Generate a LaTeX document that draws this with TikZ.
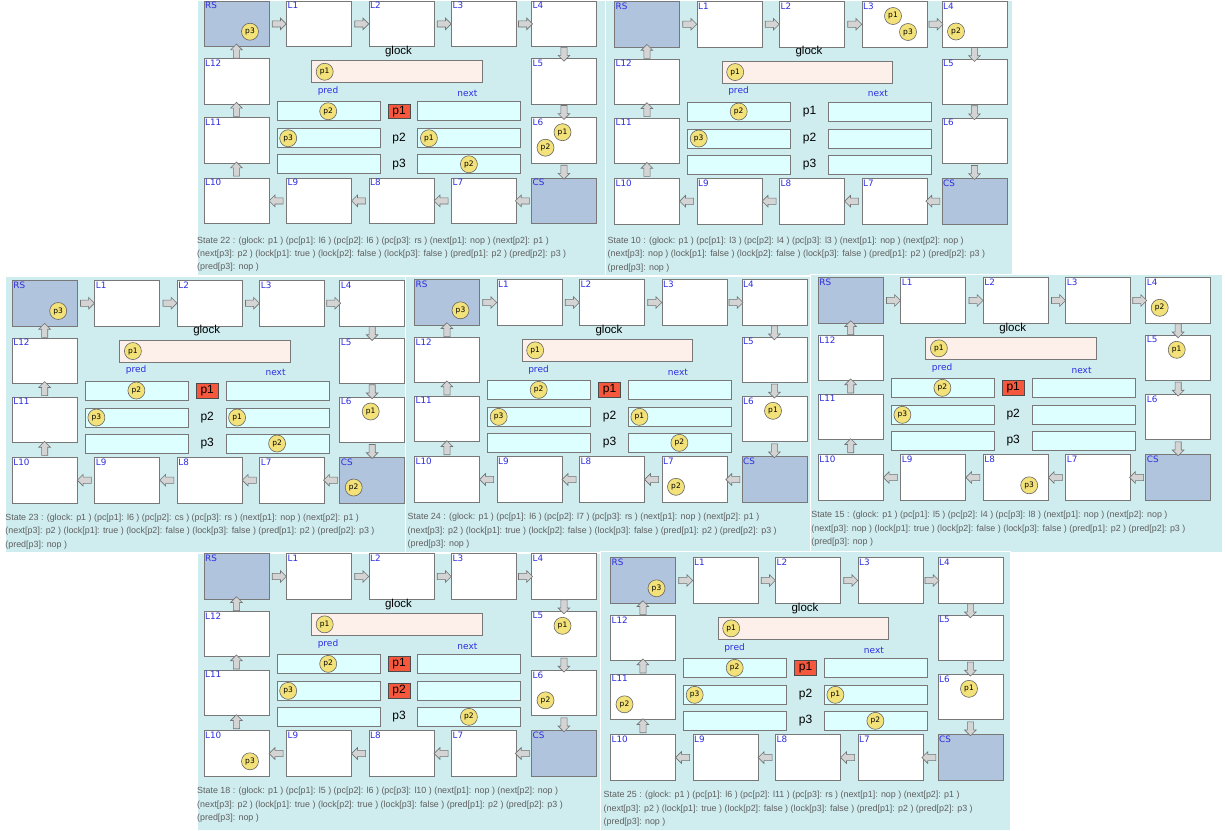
\documentclass[tikz,border=0pt]{standalone}
\usepackage{fontspec}
\setmainfont{Liberation Sans}
\newfontfamily\labelfont{DejaVu Sans}
\usetikzlibrary{positioning, calc, shapes.arrows}

\definecolor{panelbg}{RGB}{207,236,239}
\definecolor{locblue}{RGB}{176,196,222}
\definecolor{barcyan}{RGB}{222,255,255}
\definecolor{glockpink}{RGB}{253,240,234}
\definecolor{tokenyellow}{RGB}{243,226,122}
\definecolor{lockred}{RGB}{245,88,60}
\definecolor{labelblue}{RGB}{45,45,225}
\definecolor{edgegray}{RGB}{120,120,120}
\definecolor{captiongray}{RGB}{95,95,95}

\tikzset{
  loc/.style={draw=edgegray, fill=white, line width=0.9pt, minimum width=65pt,
              minimum height=45.5pt, inner sep=0pt, anchor=north west},
  endloc/.style={loc, fill=locblue},
  loclabel/.style={anchor=north west, inner sep=1.5pt, text=labelblue,
                   font=\labelfont\fontsize{8.8}{10}\selectfont},
  varlabel/.style={inner sep=0pt, text=labelblue, font=\labelfont\fontsize{9}{10}\selectfont},
  bar/.style={draw=edgegray, fill=barcyan, line width=0.9pt, minimum width=103pt,
              minimum height=19pt, inner sep=0pt, anchor=north west},
  glockbar/.style={bar, fill=glockpink, minimum width=170.5pt, minimum height=22pt},
  procname/.style={inner sep=0pt, font=\fontsize{12}{12}\selectfont},
  held/.style={draw=black!70, fill=lockred, minimum width=22pt, minimum height=14.5pt,
               inner sep=0pt, font=\fontsize{12}{12}\selectfont},
  token/.style={circle, draw=black!60, fill=tokenyellow, line width=0.6pt,
                minimum size=17pt, inner sep=0pt, font=\labelfont\fontsize{7.5}{8}\selectfont},
  slot1/.style={xshift=31.5pt, yshift=-15pt},
  slot2/.style={xshift=14.5pt, yshift=-30.5pt},
  slot3/.style={xshift=46.5pt, yshift=-31pt},
  barleft/.style={xshift=11.5pt},
  barmid/.style={xshift=51.5pt},
  flow/.style={single arrow, draw=black!55, fill=black!17, line width=0.6pt,
               minimum height=14pt, minimum width=11pt, single arrow head extend=2.7pt,
               inner xsep=0pt, inner ysep=2.8pt, sloped, allow upside down},
  caption/.style={anchor=north west, inner sep=0pt, align=left, text=captiongray,
                  font=\fontsize{8.9}{13.3}\selectfont}
}

% one screen of the simulator: #1 name, #2/#3 corner of RS, #4 state content
\newcommand\statepanel[4]{%
  \begin{scope}[shift={(#2,#3)}, name prefix=#1-]
    \node[endloc] (RS) at (0.5,0) {};
    \node[endloc] (CS) at (328,177) {};
    \foreach \n/\x/\y in {L1/83/0, L2/165.5/0, L3/248/0, L4/328/0, L5/328/57.5,
        L6/328/116.5, L7/248/177, L8/165.5/177, L9/83/177, L10/0.5/177,
        L11/0.5/116.5, L12/0.5/57.5}
      \node[loc] (\n) at (\x,\y) {};
    \foreach \n in {RS, L1, L2, L3, L4, L5, L6, CS, L7, L8, L9, L10, L11, L12}
      \node[loclabel] (\n-lbl) at (\n.north west) {\n};
    % control flow
    \foreach \a/\b in {RS/L1, L1/L2, L2/L3, L3/L4, L4/L5, L5/L6, L6/CS, CS/L7,
        L7/L8, L8/L9, L9/L10, L10/L11, L11/L12, L12/RS}
      \path (\a) -- node[flow] (\a-\b) {} (\b);
    % shared variables
    \node[inner sep=0pt, font=\fontsize{11.5}{12}\selectfont] (glock) at (195.5,51) {glock};
    \node[glockbar] (gbar) at (108,59.6) {};
    \node[varlabel] (pred) at (125,90.5) {pred};
    \node[varlabel] (next) at (264.4,92.6) {next};
    \foreach \i/\y in {1/100.6, 2/127.6, 3/153.6} {
      \node[bar] (pred\i) at (73.7,\y) {};
      \node[bar] (next\i) at (214.4,\y) {};
      \node[procname] (p\i) at ($(pred\i.east)!0.5!(next\i.west)$) {p\i};
    }
    #4
  \end{scope}}
\newcommand\proc[2]{\node[token, slot#2] (#1-p#2) at (#1.north west) {p#2};}
\newcommand\barproc[3]{\node[token, #3] (#1-p#2) at (#1.west) {p#2};}
\newcommand\holds[1]{\node[held] (hold#1) at (p#1) {p#1};}

\begin{document}
\begin{tikzpicture}[x=1pt, y=-1pt]
  \useasboundingbox (0,0) rectangle (1225,830);
  \foreach \xa/\ya/\xb/\yb in {197/0/605/275, 605/0/1012/275, 5/276/405/552,
      405/276/810/552, 810/274/1222/552, 197/553/605/830, 600/551/1010/830}
    \filldraw[fill=panelbg, draw=white, line width=1pt] (\xa,\ya) rectangle (\xb,\yb);

  % State 22
  \statepanel{A}{203}{0.7}{
    \proc{RS}{3} \proc{L6}{1} \proc{L6}{2}
    \node[token, xshift=13.7pt] (gbar-p1) at (gbar.west) {p1};
    \barproc{pred1}{2}{barmid} \barproc{pred2}{3}{barleft}
    \barproc{next2}{1}{barleft} \barproc{next3}{2}{barmid}
    \holds{1}
    \node[caption] (state) at (-6,236) {State 22 : (glock: p1 ) (pc[p1]: l6 ) (pc[p2]: l6 ) (pc[p3]: rs ) (next[p1]: nop ) (next[p2]: p1 )\\
      (next[p3]: p2 ) (lock[p1]: true ) (lock[p2]: false ) (lock[p3]: false ) (pred[p1]: p2 ) (pred[p2]: p3 )\\
      (pred[p3]: nop )};
  }
  % State 10
  \statepanel{B}{613.5}{1}{
    \proc{L3}{1} \proc{L3}{3} \proc{L4}{2}
    \node[token, xshift=13.7pt] (gbar-p1) at (gbar.west) {p1};
    \barproc{pred1}{2}{barmid} \barproc{pred2}{3}{barleft}
    \node[caption] (state) at (-6,236) {State 10 : (glock: p1 ) (pc[p1]: l3 ) (pc[p2]: l4 ) (pc[p3]: l3 ) (next[p1]: nop ) (next[p2]: nop )\\
      (next[p3]: nop ) (lock[p1]: false ) (lock[p2]: false ) (lock[p3]: false ) (pred[p1]: p2 ) (pred[p2]: p3 )\\
      (pred[p3]: nop )};
  }
  % State 23
  \statepanel{C}{11.2}{280}{
    \proc{RS}{3} \proc{L6}{1} \proc{CS}{2}
    \node[token, xshift=13.7pt] (gbar-p1) at (gbar.west) {p1};
    \barproc{pred1}{2}{barmid} \barproc{pred2}{3}{barleft}
    \barproc{next2}{1}{barleft} \barproc{next3}{2}{barmid}
    \holds{1}
    \node[caption] (state) at (-6,234) {State 23 : (glock: p1 ) (pc[p1]: l6 ) (pc[p2]: cs ) (pc[p3]: rs ) (next[p1]: nop ) (next[p2]: p1 )\\
      (next[p3]: p2 ) (lock[p1]: true ) (lock[p2]: false ) (lock[p3]: false ) (pred[p1]: p2 ) (pred[p2]: p3 )\\
      (pred[p3]: nop )};
  }
  % State 24
  \statepanel{D}{413.5}{279.3}{
    \proc{RS}{3} \proc{L6}{1} \proc{L7}{2}
    \node[token, xshift=13.7pt] (gbar-p1) at (gbar.west) {p1};
    \barproc{pred1}{2}{barmid} \barproc{pred2}{3}{barleft}
    \barproc{next2}{1}{barleft} \barproc{next3}{2}{barmid}
    \holds{1}
    \node[caption] (state) at (-6,234) {State 24 : (glock: p1 ) (pc[p1]: l6 ) (pc[p2]: l7 ) (pc[p3]: rs ) (next[p1]: nop ) (next[p2]: p1 )\\
      (next[p3]: p2 ) (lock[p1]: true ) (lock[p2]: false ) (lock[p3]: false ) (pred[p1]: p2 ) (pred[p2]: p3 )\\
      (pred[p3]: nop )};
  }
  % State 15
  \statepanel{E}{817.2}{277.3}{
    \proc{L4}{2} \proc{L5}{1} \proc{L8}{3}
    \node[token, xshift=13.7pt] (gbar-p1) at (gbar.west) {p1};
    \barproc{pred1}{2}{barmid} \barproc{pred2}{3}{barleft}
    \holds{1}
    \node[caption] (state) at (-6,234) {State 15 : (glock: p1 ) (pc[p1]: l5 ) (pc[p2]: l4 ) (pc[p3]: l8 ) (next[p1]: nop ) (next[p2]: nop )\\
      (next[p3]: nop ) (lock[p1]: true ) (lock[p2]: false ) (lock[p3]: false ) (pred[p1]: p2 ) (pred[p2]: p3 )\\
      (pred[p3]: nop )};
  }
  % State 18
  \statepanel{F}{203}{553.3}{
    \proc{L5}{1} \proc{L6}{2} \proc{L10}{3}
    \node[token, xshift=13.7pt] (gbar-p1) at (gbar.west) {p1};
    \barproc{pred1}{2}{barmid} \barproc{pred2}{3}{barleft}
    \barproc{next3}{2}{barmid}
    \holds{1} \holds{2}
    \node[caption] (state) at (-6,234) {State 18 : (glock: p1 ) (pc[p1]: l5 ) (pc[p2]: l6 ) (pc[p3]: l10 ) (next[p1]: nop ) (next[p2]: nop )\\
      (next[p3]: p2 ) (lock[p1]: true ) (lock[p2]: true ) (lock[p3]: false ) (pred[p1]: p2 ) (pred[p2]: p3 )\\
      (pred[p3]: nop )};
  }
  % State 25
  \statepanel{G}{609.5}{557.3}{
    \proc{RS}{3} \proc{L6}{1} \proc{L11}{2}
    \node[token, xshift=13.7pt] (gbar-p1) at (gbar.west) {p1};
    \barproc{pred1}{2}{barmid} \barproc{pred2}{3}{barleft}
    \barproc{next2}{1}{barleft} \barproc{next3}{2}{barmid}
    \holds{1}
    \node[caption] (state) at (-6,234) {State 25 : (glock: p1 ) (pc[p1]: l6 ) (pc[p2]: l11 ) (pc[p3]: rs ) (next[p1]: nop ) (next[p2]: p1 )\\
      (next[p3]: p2 ) (lock[p1]: true ) (lock[p2]: false ) (lock[p3]: false ) (pred[p1]: p2 ) (pred[p2]: p3 )\\
      (pred[p3]: nop )};
  }
\end{tikzpicture}
\end{document}
